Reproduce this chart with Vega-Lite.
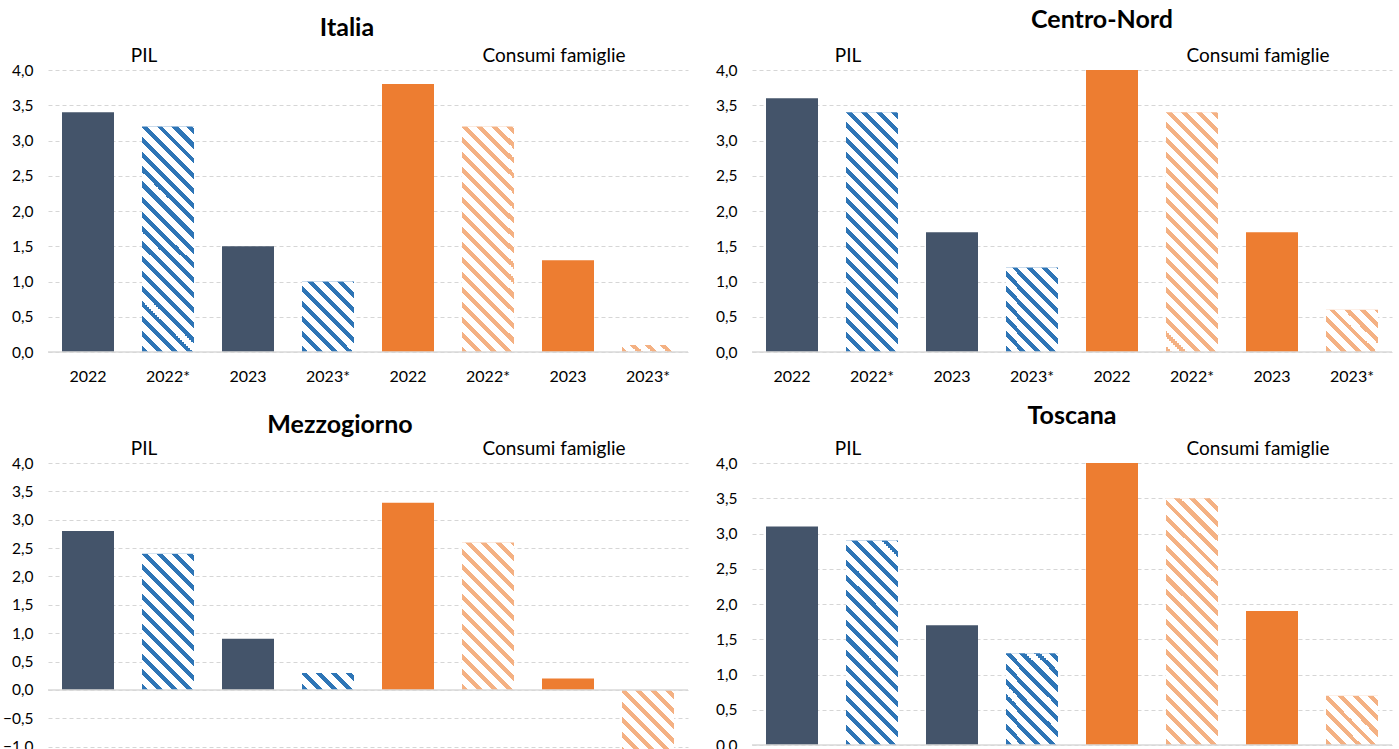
{
  "$schema": "https://vega.github.io/schema/vega-lite/v6.json",
  "background": "white",
  "padding": {"left": 2, "top": 8, "right": 0, "bottom": 0},
  "params": [
    {"name": "hatch", "value": [
      {"offset":0,"color":"rgba(255,255,255,0)"},{"offset":0.016,"color":"rgba(255,255,255,0)"},{"offset":0.016,"color":"white"},{"offset":0.04,"color":"white"},
      {"offset":0.04,"color":"rgba(255,255,255,0)"},{"offset":0.056,"color":"rgba(255,255,255,0)"},{"offset":0.056,"color":"white"},{"offset":0.08,"color":"white"},
      {"offset":0.08,"color":"rgba(255,255,255,0)"},{"offset":0.096,"color":"rgba(255,255,255,0)"},{"offset":0.096,"color":"white"},{"offset":0.12,"color":"white"},
      {"offset":0.12,"color":"rgba(255,255,255,0)"},{"offset":0.136,"color":"rgba(255,255,255,0)"},{"offset":0.136,"color":"white"},{"offset":0.16,"color":"white"},
      {"offset":0.16,"color":"rgba(255,255,255,0)"},{"offset":0.176,"color":"rgba(255,255,255,0)"},{"offset":0.176,"color":"white"},{"offset":0.2,"color":"white"},
      {"offset":0.2,"color":"rgba(255,255,255,0)"},{"offset":0.216,"color":"rgba(255,255,255,0)"},{"offset":0.216,"color":"white"},{"offset":0.24,"color":"white"},
      {"offset":0.24,"color":"rgba(255,255,255,0)"},{"offset":0.256,"color":"rgba(255,255,255,0)"},{"offset":0.256,"color":"white"},{"offset":0.28,"color":"white"},
      {"offset":0.28,"color":"rgba(255,255,255,0)"},{"offset":0.296,"color":"rgba(255,255,255,0)"},{"offset":0.296,"color":"white"},{"offset":0.32,"color":"white"},
      {"offset":0.32,"color":"rgba(255,255,255,0)"},{"offset":0.336,"color":"rgba(255,255,255,0)"},{"offset":0.336,"color":"white"},{"offset":0.36,"color":"white"},
      {"offset":0.36,"color":"rgba(255,255,255,0)"},{"offset":0.376,"color":"rgba(255,255,255,0)"},{"offset":0.376,"color":"white"},{"offset":0.4,"color":"white"},
      {"offset":0.4,"color":"rgba(255,255,255,0)"},{"offset":0.416,"color":"rgba(255,255,255,0)"},{"offset":0.416,"color":"white"},{"offset":0.44,"color":"white"},
      {"offset":0.44,"color":"rgba(255,255,255,0)"},{"offset":0.456,"color":"rgba(255,255,255,0)"},{"offset":0.456,"color":"white"},{"offset":0.48,"color":"white"},
      {"offset":0.48,"color":"rgba(255,255,255,0)"},{"offset":0.496,"color":"rgba(255,255,255,0)"},{"offset":0.496,"color":"white"},{"offset":0.52,"color":"white"},
      {"offset":0.52,"color":"rgba(255,255,255,0)"},{"offset":0.536,"color":"rgba(255,255,255,0)"},{"offset":0.536,"color":"white"},{"offset":0.56,"color":"white"},
      {"offset":0.56,"color":"rgba(255,255,255,0)"},{"offset":0.576,"color":"rgba(255,255,255,0)"},{"offset":0.576,"color":"white"},{"offset":0.6,"color":"white"},
      {"offset":0.6,"color":"rgba(255,255,255,0)"},{"offset":0.616,"color":"rgba(255,255,255,0)"},{"offset":0.616,"color":"white"},{"offset":0.64,"color":"white"},
      {"offset":0.64,"color":"rgba(255,255,255,0)"},{"offset":0.656,"color":"rgba(255,255,255,0)"},{"offset":0.656,"color":"white"},{"offset":0.68,"color":"white"},
      {"offset":0.68,"color":"rgba(255,255,255,0)"},{"offset":0.696,"color":"rgba(255,255,255,0)"},{"offset":0.696,"color":"white"},{"offset":0.72,"color":"white"},
      {"offset":0.72,"color":"rgba(255,255,255,0)"},{"offset":0.736,"color":"rgba(255,255,255,0)"},{"offset":0.736,"color":"white"},{"offset":0.76,"color":"white"},
      {"offset":0.76,"color":"rgba(255,255,255,0)"},{"offset":0.776,"color":"rgba(255,255,255,0)"},{"offset":0.776,"color":"white"},{"offset":0.8,"color":"white"},
      {"offset":0.8,"color":"rgba(255,255,255,0)"},{"offset":0.816,"color":"rgba(255,255,255,0)"},{"offset":0.816,"color":"white"},{"offset":0.84,"color":"white"},
      {"offset":0.84,"color":"rgba(255,255,255,0)"},{"offset":0.856,"color":"rgba(255,255,255,0)"},{"offset":0.856,"color":"white"},{"offset":0.88,"color":"white"},
      {"offset":0.88,"color":"rgba(255,255,255,0)"},{"offset":0.896,"color":"rgba(255,255,255,0)"},{"offset":0.896,"color":"white"},{"offset":0.92,"color":"white"},
      {"offset":0.92,"color":"rgba(255,255,255,0)"},{"offset":0.936,"color":"rgba(255,255,255,0)"},{"offset":0.936,"color":"white"},{"offset":0.96,"color":"white"},
      {"offset":0.96,"color":"rgba(255,255,255,0)"},{"offset":0.976,"color":"rgba(255,255,255,0)"},{"offset":0.976,"color":"white"},{"offset":1,"color":"white"}
    ]}
  ],
  "data": {"values": [
    {"region":"Italia","cat":"PIL 2022","kind":"PIL","value":3.4},
    {"region":"Italia","cat":"PIL 2022*","kind":"PIL*","value":3.2},
    {"region":"Italia","cat":"PIL 2023","kind":"PIL","value":1.5},
    {"region":"Italia","cat":"PIL 2023*","kind":"PIL*","value":1.0},
    {"region":"Italia","cat":"Cons 2022","kind":"Cons","value":3.8},
    {"region":"Italia","cat":"Cons 2022*","kind":"Cons*","value":3.2},
    {"region":"Italia","cat":"Cons 2023","kind":"Cons","value":1.3},
    {"region":"Italia","cat":"Cons 2023*","kind":"Cons*","value":0.1},
    {"region":"Centro-Nord","cat":"PIL 2022","kind":"PIL","value":3.6},
    {"region":"Centro-Nord","cat":"PIL 2022*","kind":"PIL*","value":3.4},
    {"region":"Centro-Nord","cat":"PIL 2023","kind":"PIL","value":1.7},
    {"region":"Centro-Nord","cat":"PIL 2023*","kind":"PIL*","value":1.2},
    {"region":"Centro-Nord","cat":"Cons 2022","kind":"Cons","value":4.0},
    {"region":"Centro-Nord","cat":"Cons 2022*","kind":"Cons*","value":3.4},
    {"region":"Centro-Nord","cat":"Cons 2023","kind":"Cons","value":1.7},
    {"region":"Centro-Nord","cat":"Cons 2023*","kind":"Cons*","value":0.6},
    {"region":"Mezzogiorno","cat":"PIL 2022","kind":"PIL","value":2.8},
    {"region":"Mezzogiorno","cat":"PIL 2022*","kind":"PIL*","value":2.4},
    {"region":"Mezzogiorno","cat":"PIL 2023","kind":"PIL","value":0.9},
    {"region":"Mezzogiorno","cat":"PIL 2023*","kind":"PIL*","value":0.3},
    {"region":"Mezzogiorno","cat":"Cons 2022","kind":"Cons","value":3.3},
    {"region":"Mezzogiorno","cat":"Cons 2022*","kind":"Cons*","value":2.6},
    {"region":"Mezzogiorno","cat":"Cons 2023","kind":"Cons","value":0.2},
    {"region":"Mezzogiorno","cat":"Cons 2023*","kind":"Cons*","value":-1.1},
    {"region":"Toscana","cat":"PIL 2022","kind":"PIL","value":3.1},
    {"region":"Toscana","cat":"PIL 2022*","kind":"PIL*","value":2.9},
    {"region":"Toscana","cat":"PIL 2023","kind":"PIL","value":1.7},
    {"region":"Toscana","cat":"PIL 2023*","kind":"PIL*","value":1.3},
    {"region":"Toscana","cat":"Cons 2022","kind":"Cons","value":4.0},
    {"region":"Toscana","cat":"Cons 2022*","kind":"Cons*","value":3.5},
    {"region":"Toscana","cat":"Cons 2023","kind":"Cons","value":1.9},
    {"region":"Toscana","cat":"Cons 2023*","kind":"Cons*","value":0.7}
  ]},
  "datasets": {
    "labels": [
      {"cat":"PIL 2022*","label":"PIL"},
      {"cat":"Cons 2023","label":"Consumi famiglie"}
    ]
  },
  "columns": 2,
  "bounds": "flush",
  "spacing": {"row": 111, "column": 64},
  "concat": [
    {
      "title": {"text":"Italia","fontSize":25,"fontWeight":"bold","font":"Lato","color":"#000","frame":"group","anchor":"middle","dx":-21,"offset":6},
      "width": 640, "height": 282,
      "layer": [
        {"transform":[{"filter":"datum.region=='Italia'"}],
         "mark":{"type":"bar","width":52},
         "encoding":{
           "x":{"field":"cat","type":"nominal","scale":{"domain":["PIL 2022","PIL 2022*","PIL 2023","PIL 2023*","Cons 2022","Cons 2022*","Cons 2023","Cons 2023*"],"paddingInner":0.35,"paddingOuter":0.175},
                "axis":{"title":null,"labelExpr":"split(datum.label,' ')[1]","labelAngle":0,"ticks":false,"domain":false,"grid":false,"labelPadding":16,"labelFontSize":16}},
           "y":{"field":"value","type":"quantitative","stack":null,"scale":{"domain":[0,4]},
                "axis":{"title":null,"values":[0,0.5,1,1.5,2,2.5,3,3.5,4],"labelExpr":"replace(format(datum.value,'.1f'),'.',',')","labelOverlap":false,"ticks":false,"domain":false,"grid":true,"gridDash":[4,3],"gridColor":"#D6D6D6","labelPadding":15,"labelFontSize":15.5,"minExtent":40,"maxExtent":40}},
           "color":{"field":"kind","type":"nominal","scale":{"domain":["PIL","PIL*","Cons","Cons*"],"range":["#44546A","#2E75B6","#ED7D31","#F4B183"]},"legend":null}
         }},
        {"transform":[{"filter":"datum.region=='Italia' && indexof(datum.kind,'*')>=0"}],
         "mark":{"type":"bar","width":52,"fill":{"expr":"{gradient:'linear',x1:0,y1:1,x2:19500/(2704+pow(abs(datum.value)*70.5,2)),y2:1-375*abs(datum.value)*70.5/(2704+pow(abs(datum.value)*70.5,2)),stops:hatch}"}},
         "encoding":{
           "x":{"field":"cat","type":"nominal","axis":{"title":null,"labelExpr":"split(datum.label,' ')[1]","labelAngle":0,"ticks":false,"domain":false,"grid":false,"labelPadding":16,"labelFontSize":16}},
           "y":{"field":"value","type":"quantitative","stack":null,"axis":{"title":null,"values":[0,0.5,1,1.5,2,2.5,3,3.5,4],"labelExpr":"replace(format(datum.value,'.1f'),'.',',')","labelOverlap":false,"ticks":false,"domain":false,"grid":true,"gridDash":[4,3],"gridColor":"#D6D6D6","labelPadding":15,"labelFontSize":15.5,"minExtent":40,"maxExtent":40}}}},
        {"data":{"values":[{}]},"mark":{"type":"rule","color":"#D9D9D9","strokeWidth":1.5},
         "encoding":{"y":{"datum":0,"axis":{"title":null,"values":[0,0.5,1,1.5,2,2.5,3,3.5,4],"labelExpr":"replace(format(datum.value,'.1f'),'.',',')","labelOverlap":false,"ticks":false,"domain":false,"grid":true,"gridDash":[4,3],"gridColor":"#D6D6D6","labelPadding":15,"labelFontSize":15.5,"minExtent":40,"maxExtent":40}}}},
        {"data":{"name":"labels"},
         "mark":{"type":"text","fontSize":19,"font":"Lato","color":"#000","baseline":"middle","dy":-14,"dx":{"expr":"datum.label=='PIL'?-24:-14"}},
         "encoding":{
           "x":{"field":"cat","type":"nominal","axis":{"title":null,"labelExpr":"split(datum.label,' ')[1]","labelAngle":0,"ticks":false,"domain":false,"grid":false,"labelPadding":16,"labelFontSize":16}},
           "y":{"datum":4,"axis":{"title":null,"values":[0,0.5,1,1.5,2,2.5,3,3.5,4],"labelExpr":"replace(format(datum.value,'.1f'),'.',',')","labelOverlap":false,"ticks":false,"domain":false,"grid":true,"gridDash":[4,3],"gridColor":"#D6D6D6","labelPadding":15,"labelFontSize":15.5,"minExtent":40,"maxExtent":40}},
           "text":{"field":"label"}}}
      ]
    },
    {
      "title": {"text":"Centro-Nord","fontSize":25,"fontWeight":"bold","font":"Lato","color":"#000","frame":"group","anchor":"middle","dx":30,"offset":14},
      "width": 640, "height": 282,
      "layer": [
        {"transform":[{"filter":"datum.region=='Centro-Nord'"}],
         "mark":{"type":"bar","width":52},
         "encoding":{
           "x":{"field":"cat","type":"nominal","scale":{"domain":["PIL 2022","PIL 2022*","PIL 2023","PIL 2023*","Cons 2022","Cons 2022*","Cons 2023","Cons 2023*"],"paddingInner":0.35,"paddingOuter":0.175},
                "axis":{"title":null,"labelExpr":"split(datum.label,' ')[1]","labelAngle":0,"ticks":false,"domain":false,"grid":false,"labelPadding":16,"labelFontSize":16}},
           "y":{"field":"value","type":"quantitative","stack":null,"scale":{"domain":[0,4]},
                "axis":{"title":null,"values":[0,0.5,1,1.5,2,2.5,3,3.5,4],"labelExpr":"replace(format(datum.value,'.1f'),'.',',')","labelOverlap":false,"ticks":false,"domain":false,"grid":true,"gridDash":[4,3],"gridColor":"#D6D6D6","labelPadding":15,"labelFontSize":15.5,"minExtent":40,"maxExtent":40}},
           "color":{"field":"kind","type":"nominal","scale":{"domain":["PIL","PIL*","Cons","Cons*"],"range":["#44546A","#2E75B6","#ED7D31","#F4B183"]},"legend":null}
         }},
        {"transform":[{"filter":"datum.region=='Centro-Nord' && indexof(datum.kind,'*')>=0"}],
         "mark":{"type":"bar","width":52,"fill":{"expr":"{gradient:'linear',x1:0,y1:1,x2:19500/(2704+pow(abs(datum.value)*70.5,2)),y2:1-375*abs(datum.value)*70.5/(2704+pow(abs(datum.value)*70.5,2)),stops:hatch}"}},
         "encoding":{
           "x":{"field":"cat","type":"nominal","axis":{"title":null,"labelExpr":"split(datum.label,' ')[1]","labelAngle":0,"ticks":false,"domain":false,"grid":false,"labelPadding":16,"labelFontSize":16}},
           "y":{"field":"value","type":"quantitative","stack":null,"axis":{"title":null,"values":[0,0.5,1,1.5,2,2.5,3,3.5,4],"labelExpr":"replace(format(datum.value,'.1f'),'.',',')","labelOverlap":false,"ticks":false,"domain":false,"grid":true,"gridDash":[4,3],"gridColor":"#D6D6D6","labelPadding":15,"labelFontSize":15.5,"minExtent":40,"maxExtent":40}}}},
        {"data":{"values":[{}]},"mark":{"type":"rule","color":"#D9D9D9","strokeWidth":1.5},
         "encoding":{"y":{"datum":0,"axis":{"title":null,"values":[0,0.5,1,1.5,2,2.5,3,3.5,4],"labelExpr":"replace(format(datum.value,'.1f'),'.',',')","labelOverlap":false,"ticks":false,"domain":false,"grid":true,"gridDash":[4,3],"gridColor":"#D6D6D6","labelPadding":15,"labelFontSize":15.5,"minExtent":40,"maxExtent":40}}}},
        {"data":{"name":"labels"},
         "mark":{"type":"text","fontSize":19,"font":"Lato","color":"#000","baseline":"middle","dy":-14,"dx":{"expr":"datum.label=='PIL'?-24:-14"}},
         "encoding":{
           "x":{"field":"cat","type":"nominal","axis":{"title":null,"labelExpr":"split(datum.label,' ')[1]","labelAngle":0,"ticks":false,"domain":false,"grid":false,"labelPadding":16,"labelFontSize":16}},
           "y":{"datum":4,"axis":{"title":null,"values":[0,0.5,1,1.5,2,2.5,3,3.5,4],"labelExpr":"replace(format(datum.value,'.1f'),'.',',')","labelOverlap":false,"ticks":false,"domain":false,"grid":true,"gridDash":[4,3],"gridColor":"#D6D6D6","labelPadding":15,"labelFontSize":15.5,"minExtent":40,"maxExtent":40}},
           "text":{"field":"label"}}}
      ]
    },
    {
      "title": {"text":"Mezzogiorno","fontSize":25,"fontWeight":"bold","font":"Lato","color":"#000","frame":"group","anchor":"middle","dx":-28,"offset":2},
      "width": 640, "height": 312,
      "layer": [
        {"transform":[{"filter":"datum.region=='Mezzogiorno'"}],
         "mark":{"type":"bar","width":52},
         "encoding":{
           "x":{"field":"cat","type":"nominal","scale":{"domain":["PIL 2022","PIL 2022*","PIL 2023","PIL 2023*","Cons 2022","Cons 2022*","Cons 2023","Cons 2023*"],"paddingInner":0.35,"paddingOuter":0.175},
                "axis":{"title":null,"labelExpr":"split(datum.label,' ')[1]","labelAngle":0,"ticks":false,"domain":false,"grid":false,"labelPadding":16,"labelFontSize":16}},
           "y":{"field":"value","type":"quantitative","stack":null,"scale":{"domain":[-1.5,4]},
                "axis":{"title":null,"values":[-1.5,-1,-0.5,0,0.5,1,1.5,2,2.5,3,3.5,4],"labelExpr":"replace(format(datum.value,'.1f'),'.',',')","labelOverlap":false,"ticks":false,"domain":false,"grid":true,"gridDash":[4,3],"gridColor":"#D6D6D6","labelPadding":15,"labelFontSize":15.5,"minExtent":40,"maxExtent":40}},
           "color":{"field":"kind","type":"nominal","scale":{"domain":["PIL","PIL*","Cons","Cons*"],"range":["#44546A","#2E75B6","#ED7D31","#F4B183"]},"legend":null}
         }},
        {"transform":[{"filter":"datum.region=='Mezzogiorno' && indexof(datum.kind,'*')>=0"}],
         "mark":{"type":"bar","width":52,"fill":{"expr":"{gradient:'linear',x1:0,y1:1,x2:19500/(2704+pow(abs(datum.value)*56.73,2)),y2:1-375*abs(datum.value)*56.73/(2704+pow(abs(datum.value)*56.73,2)),stops:hatch}"}},
         "encoding":{
           "x":{"field":"cat","type":"nominal","axis":{"title":null,"labelExpr":"split(datum.label,' ')[1]","labelAngle":0,"ticks":false,"domain":false,"grid":false,"labelPadding":16,"labelFontSize":16}},
           "y":{"field":"value","type":"quantitative","stack":null,"axis":{"title":null,"values":[-1.5,-1,-0.5,0,0.5,1,1.5,2,2.5,3,3.5,4],"labelExpr":"replace(format(datum.value,'.1f'),'.',',')","labelOverlap":false,"ticks":false,"domain":false,"grid":true,"gridDash":[4,3],"gridColor":"#D6D6D6","labelPadding":15,"labelFontSize":15.5,"minExtent":40,"maxExtent":40}}}},
        {"data":{"values":[{}]},"mark":{"type":"rule","color":"#D9D9D9","strokeWidth":1.5},
         "encoding":{"y":{"datum":0,"axis":{"title":null,"values":[-1.5,-1,-0.5,0,0.5,1,1.5,2,2.5,3,3.5,4],"labelExpr":"replace(format(datum.value,'.1f'),'.',',')","labelOverlap":false,"ticks":false,"domain":false,"grid":true,"gridDash":[4,3],"gridColor":"#D6D6D6","labelPadding":15,"labelFontSize":15.5,"minExtent":40,"maxExtent":40}}}},
        {"data":{"name":"labels"},
         "mark":{"type":"text","fontSize":19,"font":"Lato","color":"#000","baseline":"middle","dy":-14,"dx":{"expr":"datum.label=='PIL'?-24:-14"}},
         "encoding":{
           "x":{"field":"cat","type":"nominal","axis":{"title":null,"labelExpr":"split(datum.label,' ')[1]","labelAngle":0,"ticks":false,"domain":false,"grid":false,"labelPadding":16,"labelFontSize":16}},
           "y":{"datum":4,"axis":{"title":null,"values":[-1.5,-1,-0.5,0,0.5,1,1.5,2,2.5,3,3.5,4],"labelExpr":"replace(format(datum.value,'.1f'),'.',',')","labelOverlap":false,"ticks":false,"domain":false,"grid":true,"gridDash":[4,3],"gridColor":"#D6D6D6","labelPadding":15,"labelFontSize":15.5,"minExtent":40,"maxExtent":40}},
           "text":{"field":"label"}}}
      ]
    },
    {
      "title": {"text":"Toscana","fontSize":25,"fontWeight":"bold","font":"Lato","color":"#000","frame":"group","anchor":"middle","dx":0,"offset":11},
      "width": 640, "height": 282,
      "layer": [
        {"transform":[{"filter":"datum.region=='Toscana'"}],
         "mark":{"type":"bar","width":52},
         "encoding":{
           "x":{"field":"cat","type":"nominal","scale":{"domain":["PIL 2022","PIL 2022*","PIL 2023","PIL 2023*","Cons 2022","Cons 2022*","Cons 2023","Cons 2023*"],"paddingInner":0.35,"paddingOuter":0.175},
                "axis":{"title":null,"labelExpr":"split(datum.label,' ')[1]","labelAngle":0,"ticks":false,"domain":false,"grid":false,"labelPadding":16,"labelFontSize":16}},
           "y":{"field":"value","type":"quantitative","stack":null,"scale":{"domain":[0,4]},
                "axis":{"title":null,"values":[0,0.5,1,1.5,2,2.5,3,3.5,4],"labelExpr":"replace(format(datum.value,'.1f'),'.',',')","labelOverlap":false,"ticks":false,"domain":false,"grid":true,"gridDash":[4,3],"gridColor":"#D6D6D6","labelPadding":15,"labelFontSize":15.5,"minExtent":40,"maxExtent":40}},
           "color":{"field":"kind","type":"nominal","scale":{"domain":["PIL","PIL*","Cons","Cons*"],"range":["#44546A","#2E75B6","#ED7D31","#F4B183"]},"legend":null}
         }},
        {"transform":[{"filter":"datum.region=='Toscana' && indexof(datum.kind,'*')>=0"}],
         "mark":{"type":"bar","width":52,"fill":{"expr":"{gradient:'linear',x1:0,y1:1,x2:19500/(2704+pow(abs(datum.value)*70.5,2)),y2:1-375*abs(datum.value)*70.5/(2704+pow(abs(datum.value)*70.5,2)),stops:hatch}"}},
         "encoding":{
           "x":{"field":"cat","type":"nominal","axis":{"title":null,"labelExpr":"split(datum.label,' ')[1]","labelAngle":0,"ticks":false,"domain":false,"grid":false,"labelPadding":16,"labelFontSize":16}},
           "y":{"field":"value","type":"quantitative","stack":null,"axis":{"title":null,"values":[0,0.5,1,1.5,2,2.5,3,3.5,4],"labelExpr":"replace(format(datum.value,'.1f'),'.',',')","labelOverlap":false,"ticks":false,"domain":false,"grid":true,"gridDash":[4,3],"gridColor":"#D6D6D6","labelPadding":15,"labelFontSize":15.5,"minExtent":40,"maxExtent":40}}}},
        {"data":{"values":[{}]},"mark":{"type":"rule","color":"#D9D9D9","strokeWidth":1.5},
         "encoding":{"y":{"datum":0,"axis":{"title":null,"values":[0,0.5,1,1.5,2,2.5,3,3.5,4],"labelExpr":"replace(format(datum.value,'.1f'),'.',',')","labelOverlap":false,"ticks":false,"domain":false,"grid":true,"gridDash":[4,3],"gridColor":"#D6D6D6","labelPadding":15,"labelFontSize":15.5,"minExtent":40,"maxExtent":40}}}},
        {"data":{"name":"labels"},
         "mark":{"type":"text","fontSize":19,"font":"Lato","color":"#000","baseline":"middle","dy":-14,"dx":{"expr":"datum.label=='PIL'?-24:-14"}},
         "encoding":{
           "x":{"field":"cat","type":"nominal","axis":{"title":null,"labelExpr":"split(datum.label,' ')[1]","labelAngle":0,"ticks":false,"domain":false,"grid":false,"labelPadding":16,"labelFontSize":16}},
           "y":{"datum":4,"axis":{"title":null,"values":[0,0.5,1,1.5,2,2.5,3,3.5,4],"labelExpr":"replace(format(datum.value,'.1f'),'.',',')","labelOverlap":false,"ticks":false,"domain":false,"grid":true,"gridDash":[4,3],"gridColor":"#D6D6D6","labelPadding":15,"labelFontSize":15.5,"minExtent":40,"maxExtent":40}},
           "text":{"field":"label"}}}
      ]
    }
  ],
  "config": {
    "view": {"stroke": null},
    "font": "Lato",
    "axis": {"labelFont": "Lato", "labelColor": "#000"},
    "axisY": {"labelOverlap": false}
  }
}
